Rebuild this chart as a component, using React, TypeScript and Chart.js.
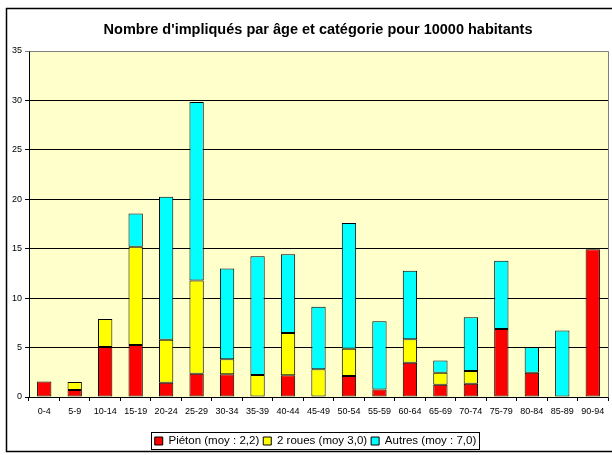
import React, { useEffect, useRef } from "react";
import { Chart, registerables } from "chart.js";

Chart.register(...registerables);

const ageGroups = ["0-4", "5-9", "10-14", "15-19", "20-24", "25-29", "30-34", "35-39", "40-44", "45-49", "50-54", "55-59", "60-64", "65-69", "70-74", "75-79", "80-84", "85-89", "90-94"];
const pieton = [1.58, 0.71, 5.07, 5.27, 1.45, 2.36, 2.29, null, 2.19, null, 2.13, 0.77, 3.47, 1.25, 1.35, 6.89, 2.46, null, 14.95];
const deuxRoues = [null, 0.81, 2.83, 9.93, 4.33, 9.42, 1.52, 2.23, 4.29, 2.8, 2.76, null, 2.37, 1.21, 1.28, null, null, null, null];
const autres = [null, null, null, 3.37, 14.48, 18.07, 9.19, 12.02, 7.97, 6.32, 12.7, 6.89, 6.93, 1.22, 5.44, 6.89, 2.57, 6.72, null];
const seriesLabels = ["Piéton (moy : 2,2)", "2 roues (moy 3,0)", "Autres (moy : 7,0)"];
const seriesColors = ["#FF0000", "#FFFF00", "#00FFFF"];
const titleText = "Nombre d'impliqués par âge et catégorie pour 10000 habitants";
const yMax = 35;
const yStep = 5;

const FONT = "'Liberation Sans', Arial, sans-serif";

const framePlugin = {
  id: "frame",
  afterLayout(chart: any) {
    const lg = chart.legend;
    if (!lg) return;
    const shift = -3;
    lg.left += shift;
    lg.right += shift;
    (lg.legendHitBoxes || []).forEach((h: any) => { h.left += shift; });
  },
  beforeDraw(chart: any) {
    const { ctx, chartArea: a, width, height } = chart;
    ctx.save();
    ctx.fillStyle = "#FFFFFF";
    ctx.fillRect(0, 0, width, height);
    ctx.fillStyle = "#FFFFCC";
    ctx.fillRect(a.left, a.top, a.right - a.left, a.bottom - a.top);
    ctx.restore();
  },
  afterDatasetsDraw(chart: any) {
    const { ctx, chartArea: a } = chart;
    ctx.save();
    ctx.strokeStyle = "#808080";
    ctx.lineWidth = 1;
    ctx.beginPath();
    ctx.moveTo(Math.round(a.left) + 0.5, Math.round(a.top) + 0.5);
    ctx.lineTo(Math.round(a.right) + 0.5, Math.round(a.top) + 0.5);
    ctx.lineTo(Math.round(a.right) + 0.5, Math.round(a.bottom) + 0.5);
    ctx.stroke();
    ctx.restore();
  },
  afterDraw(chart: any) {
    const { ctx } = chart;
    ctx.save();
    // outer frame
    ctx.strokeStyle = "#000000";
    ctx.lineWidth = 1.5;
    ctx.strokeRect(6.5, 8.5, 640, 443);
    // title
    ctx.fillStyle = "#000000";
    ctx.font = "bold 14.5px " + FONT;
    ctx.textAlign = "center";
    ctx.textBaseline = "middle";
    ctx.fillText(titleText, 318, 30);
    // legend border
    const lg = chart.legend;
    if (lg && lg.legendHitBoxes && lg.legendHitBoxes.length) {
      const hb = lg.legendHitBoxes;
      let l = Infinity, r = -Infinity, t = Infinity, b = -Infinity;
      hb.forEach((h: any) => {
        l = Math.min(l, h.left);
        r = Math.max(r, h.left + h.width);
        t = Math.min(t, h.top);
        b = Math.max(b, h.top + h.height);
      });
      ctx.lineWidth = 1;
      ctx.strokeRect(Math.round(l - 4) + 0.5, Math.round(t - 3) + 0.5, Math.round(r - l + 6), Math.round(b - t + 5));
    }
    ctx.restore();
  },
};

export default function App() {
  const ref = useRef<HTMLCanvasElement | null>(null);
  useEffect(() => {
    if (!ref.current) return;
    const chart = new Chart(ref.current, {
      type: "bar",
      data: {
        labels: ageGroups,
        datasets: [pieton, deuxRoues, autres].map((d, i) => ({
          label: seriesLabels[i],
          data: d,
          backgroundColor: seriesColors[i],
          borderColor: "#000000",
          borderWidth: 1,
          borderSkipped: false,
          barPercentage: 0.47,
          categoryPercentage: 1,
        })),
      },
      options: {
        responsive: false,
        animation: false,
        devicePixelRatio: 1,
        layout: { padding: { left: 0, top: 51, right: 4, bottom: -1.75 } },
        plugins: {
          title: { display: false },
          tooltip: { enabled: false },
          legend: {
            display: true,
            position: "bottom",
            fullSize: false,
            labels: {
              font: { family: FONT, size: 11.5 },
              color: "#000000",
              boxWidth: 8,
              boxHeight: 8,
              padding: 4,
              useBorderRadius: false,
            },
          },
        },
        scales: {
          x: {
            stacked: true,
            offset: true,
            afterFit: (s: any) => { s.height = 34.25; },
            grid: {
              offset: true,
              drawOnChartArea: false,
              drawTicks: true,
              tickLength: 4,
              color: "#000000",
            },
            border: { display: true, color: "#000000", width: 1 },
            ticks: {
              font: { family: FONT, size: 9 },
              color: "#000000",
              maxRotation: 0,
              autoSkip: false,
              padding: 5,
            },
          },
          y: {
            stacked: true,
            min: 0,
            max: yMax,
            afterFit: (s: any) => { s.width = 29; },
            grid: {
              drawTicks: true,
              tickLength: 4,
              color: (c: any) => (c.tick && c.tick.value === yMax ? "#808080" : "#000000"),
            },
            border: { display: true, color: "#000000", width: 1 },
            ticks: {
              stepSize: yStep,
              font: { family: FONT, size: 9 },
              color: "#000000",
              padding: 3,
            },
          },
        },
      },
      plugins: [framePlugin],
    } as any);
    return () => chart.destroy();
  }, []);
  return (
    <div style={{ position: "fixed", left: 0, top: 0, width: 612, height: 455 }}>
      <canvas ref={ref} width={612} height={455} style={{ display: "block" }} />
    </div>
  );
}
